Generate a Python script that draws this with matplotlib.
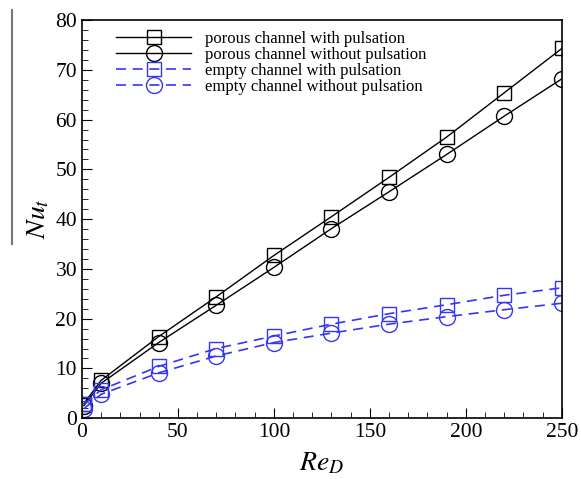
import matplotlib
matplotlib.use("Agg")
import matplotlib.pyplot as plt
from matplotlib.lines import Line2D
from matplotlib.ticker import MultipleLocator

# Reynolds numbers and time-averaged Nusselt numbers
re_d = [1, 10, 40, 70, 100, 130, 160, 190, 220, 250]
nu_porous_puls = [2.9, 7.6, 16.4, 24.4, 32.7, 40.5, 48.4, 56.5, 65.4, 74.3]
nu_porous_nopuls = [2.5, 7.0, 15.2, 22.7, 30.3, 38.1, 45.5, 53.0, 60.7, 68.2]
nu_empty_puls = [2.8, 5.7, 10.4, 14.0, 16.5, 18.9, 21.0, 22.8, 24.7, 26.2]
nu_empty_nopuls = [1.9, 4.8, 9.1, 12.5, 15.2, 17.1, 18.9, 20.4, 21.8, 23.1]

labels = [
    "porous channel with pulsation",
    "porous channel without pulsation",
    "empty channel with pulsation",
    "empty channel without pulsation",
]

plt.rcParams["font.family"] = "Liberation Serif"
plt.rcParams["mathtext.fontset"] = "stix"

BLUE = "#3535f5"

fig = plt.figure(figsize=(5.81, 4.79), dpi=100)
ax = fig.add_axes([0.141, 0.127, 0.826, 0.831])

ax.plot(re_d, nu_porous_puls, color="black", lw=1.0, marker="s", ms=10,
        mfc="none", mew=1.0, label=labels[0])
ax.plot(re_d, nu_porous_nopuls, color="black", lw=1.0, marker="o", ms=11.5,
        mfc="none", mew=1.0, label=labels[1])
ax.plot(re_d, nu_empty_puls, color=BLUE, lw=1.2, ls=(0, (6, 4)), marker="s",
        ms=10, mfc="none", mew=1.0, label=labels[2])
ax.plot(re_d, nu_empty_nopuls, color=BLUE, lw=1.2, ls=(0, (6, 4)), marker="o",
        ms=11.5, mfc="none", mew=1.0, label=labels[3])

ax.set_xlim(0, 250)
ax.set_ylim(0, 80)
ax.xaxis.set_major_locator(MultipleLocator(50))
ax.xaxis.set_minor_locator(MultipleLocator(10))
ax.yaxis.set_major_locator(MultipleLocator(10))
ax.yaxis.set_minor_locator(MultipleLocator(2))
ax.tick_params(which="both", direction="in", labelsize=15.5)
ax.tick_params(which="major", length=7)
ax.tick_params(which="minor", length=4)
for s in ax.spines.values():
    s.set_linewidth(1.2)

ax.set_xlabel(r"$\mathit{Re}_D$", fontsize=20, labelpad=6)
ax.set_ylabel(r"$\mathit{Nu}_t$", fontsize=20, labelpad=3)
# overbar of the averaged Nusselt number
fig.add_artist(Line2D([0.020, 0.020], [0.49, 0.98], color="#777777", lw=1.5))

ax.legend(loc="upper left", frameon=False, fontsize=12, handlelength=4.5,
          labelspacing=0.0, handletextpad=0.8, borderaxespad=0,
          bbox_to_anchor=(0.058, 0.99))

fig.savefig("out.png", dpi=100)
